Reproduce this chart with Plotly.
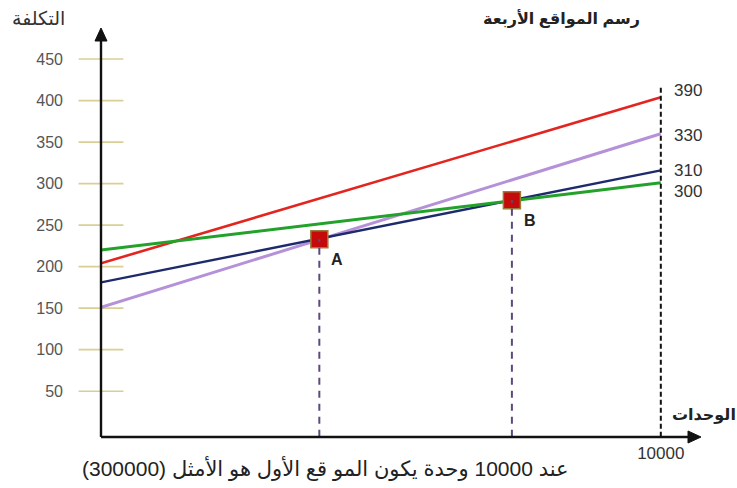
import plotly.graph_objects as go

# ---- data ----
x_units = [0, 10000]
red_cost = [204, 404]
purple_cost = [151, 360]
blue_cost = [181, 316]
green_cost = [220, 301]

point_names = ["A", "B"]
point_x = [3900, 7340]
point_y = [233, 280]

y_ticks = [50, 100, 150, 200, 250, 300, 350, 400, 450]
end_labels = ["390", "330", "310", "300"]
end_label_y = [412, 358, 316, 290]

x_max_tick = 10000
x_max_label = "10000"

title_text = "رسم المواقع الأربعة"
y_title = "التكلفة"
x_title = "الوحدات"
caption = "عند 10000 وحدة يكون المو قع الأول هو الأمثل (300000)"

X_RANGE = [0, 10700]
Y_RANGE = [-10, 485]
AXIS_Y = -5
FONT = "Arial, Liberation Sans, DejaVu Sans, sans-serif"
NARROW = "Liberation Sans Narrow, Arial Narrow, Arial, Liberation Sans, sans-serif"

W, H = 737, 488
L, R, T, B = 101, 37, 30, 47
pw, ph = W - L - R, H - T - B


def pxx(x):
    return (x - L) / pw


def pxy(y):
    return 1 - (y - T) / ph


fig = go.Figure()

# short khaki tick marks on the y axis (markers so they are not clipped)
fig.add_trace(go.Scatter(x=[0] * len(y_ticks), y=y_ticks, mode="markers",
                         marker=dict(symbol="line-ew", size=32,
                                     line=dict(color="#d9cf94", width=1.6)),
                         cliponaxis=False, hoverinfo="skip", showlegend=False))

series = [
    (red_cost, "#e3241f", 2.6),
    (purple_cost, "#b591d8", 3),
    (blue_cost, "#1d2a6b", 2.4),
    (green_cost, "#22a22a", 3),
]
for ys, col, w in series:
    fig.add_trace(go.Scatter(x=x_units, y=ys, mode="lines",
                             line=dict(color=col, width=w),
                             hoverinfo="skip", showlegend=False))

shapes = []
for px, py in zip(point_x, point_y):
    shapes.append(dict(type="line", xref="x", yref="y", x0=px, x1=px,
                       y0=AXIS_Y, y1=py,
                       line=dict(color="#5b4a80", width=2, dash="7px,6px")))
shapes.append(dict(type="line", xref="x", yref="y", x0=x_max_tick, x1=x_max_tick,
                   y0=AXIS_Y, y1=416,
                   line=dict(color="#111111", width=2, dash="5px,3px")))
# axes (paper referenced, unclipped) with arrow heads
ax_y = 437
shapes.append(dict(type="line", xref="paper", yref="paper",
                   x0=pxx(101), x1=pxx(692), y0=pxy(ax_y), y1=pxy(ax_y),
                   line=dict(color="#111", width=2.4)))
shapes.append(dict(type="path", xref="paper", yref="paper",
                   path="M %f,%f L %f,%f L %f,%f Z" % (
                       pxx(701), pxy(ax_y), pxx(688), pxy(ax_y - 6),
                       pxx(688), pxy(ax_y + 6)),
                   fillcolor="#111", line=dict(color="#111", width=1)))
shapes.append(dict(type="line", xref="paper", yref="paper",
                   x0=pxx(101), x1=pxx(101), y0=pxy(ax_y), y1=pxy(38),
                   line=dict(color="#111", width=2.4)))
shapes.append(dict(type="path", xref="paper", yref="paper",
                   path="M %f,%f L %f,%f L %f,%f Z" % (
                       pxx(101), pxy(28), pxx(95), pxy(41), pxx(107), pxy(41)),
                   fillcolor="#111", line=dict(color="#111", width=1)))
fig.update_layout(shapes=shapes)

# markers A, B
fig.add_trace(go.Scatter(x=point_x, y=point_y, mode="markers",
                         marker=dict(symbol="square", size=17, color="#c40a0a",
                                     line=dict(color="#9c7a3c", width=1.5)),
                         cliponaxis=False, hoverinfo="skip", showlegend=False))

ann = []
for name, px, py in zip(point_names, point_x, point_y):
    ann.append(dict(x=px, y=py, xref="x", yref="y", text="<b>%s</b>" % name,
                    showarrow=False, xshift=18, yshift=-20,
                    xanchor="center", yanchor="middle",
                    font=dict(family=FONT, size=16, color="#222")))
for lab, ly in zip(end_labels, end_label_y):
    ann.append(dict(x=x_max_tick, y=ly, xref="x", yref="y", text=lab,
                    showarrow=False, xanchor="left", yanchor="middle", xshift=11,
                    font=dict(family=NARROW, size=17, color="#333")))
px_ann = [
    (561, 19, "<b>%s</b>" % title_text, 16, "#222"),
    (38, 18, y_title, 19, "#333"),
    (704, 415, "<b>%s</b>" % x_title, 16, "#222"),
    (325, 468, caption, 21, "#222"),
]
for x, y, txt, sz, col in px_ann:
    ann.append(dict(x=pxx(x), y=pxy(y), xref="paper", yref="paper",
                    text=txt, showarrow=False, xanchor="center", yanchor="middle",
                    font=dict(family=FONT, size=sz, color=col)))
fig.update_layout(annotations=ann)

fig.update_layout(
    width=W, height=H,
    margin=dict(l=L, r=R, t=T, b=B, pad=0),
    plot_bgcolor="white", paper_bgcolor="white",
    xaxis=dict(range=X_RANGE, showgrid=False, zeroline=False, showline=False,
               tickvals=[x_max_tick], ticktext=[x_max_label], ticks="",
               ticklabelstandoff=0,
               tickfont=dict(family=NARROW, size=17, color="#333")),
    yaxis=dict(range=Y_RANGE, showgrid=False, zeroline=False, showline=False,
               tickvals=y_ticks, ticks="", ticklabelstandoff=37,
               tickfont=dict(family=FONT, size=16, color="#555")),
)

fig.write_html("out.html", config={"displayModeBar": False},
               post_script="document.body.style.margin='0px';document.body.style.overflow='hidden';")
